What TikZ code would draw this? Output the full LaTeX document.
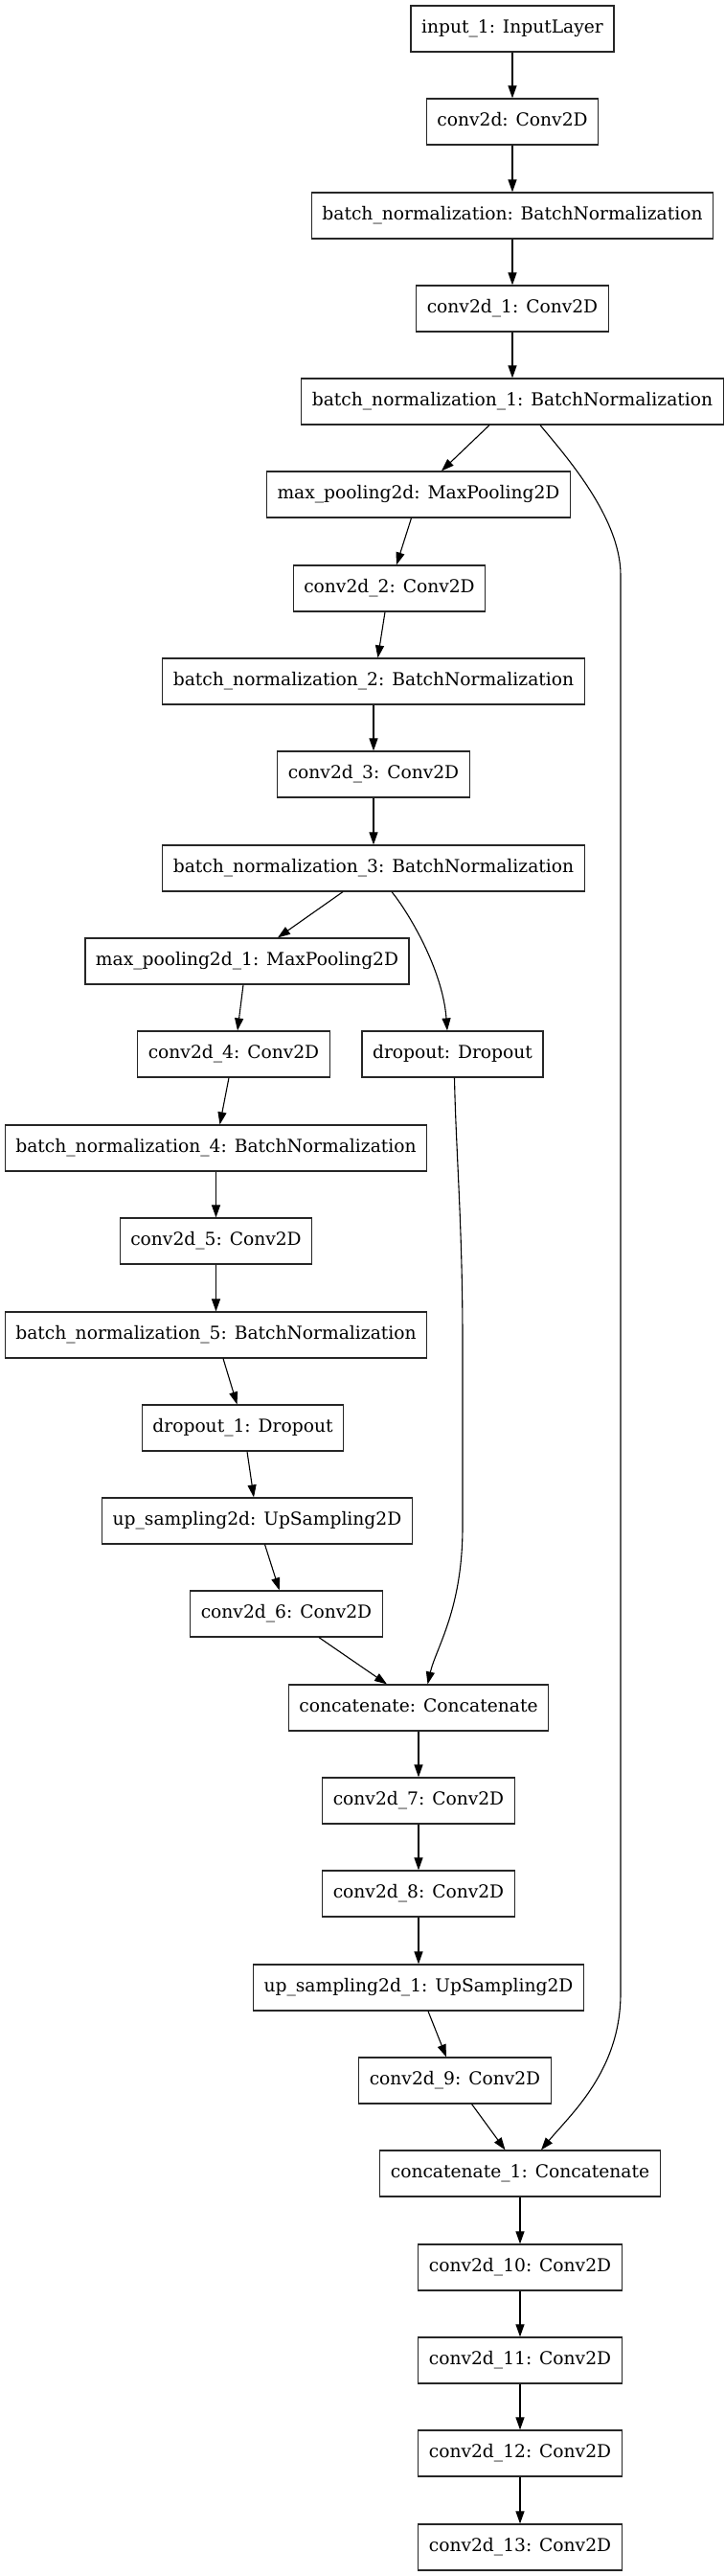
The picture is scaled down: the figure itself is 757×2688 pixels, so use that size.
\documentclass[tikz,border=0pt]{standalone}
\usepackage{fontspec}
\setmainfont{DejaVu Serif}
\usetikzlibrary{arrows.meta}
\begin{document}
\begin{tikzpicture}[x=1pt,y=-1pt,
  layer/.style={draw=black!85, rectangle, minimum height=48pt, inner xsep=11pt, inner ysep=0pt,
    line width=1.2pt, font=\fontsize{18.67pt}{22pt}\selectfont, text height=13.5pt, text depth=4pt},
  conn/.style={-{Triangle[length=13pt,width=9pt]}, line width=1.1pt}]
\useasboundingbox (0,0) rectangle (757,2688);
\node[layer] (in1) at (535,30) {input\_1: InputLayer};
\node[layer] (c0) at (535,127) {conv2d: Conv2D};
\node[layer] (bn0) at (535,225) {batch\_normalization: BatchNormalization};
\node[layer] (c1) at (535,322) {conv2d\_1: Conv2D};
\node[layer] (bn1) at (535,419) {batch\_normalization\_1: BatchNormalization};
\node[layer] (mp0) at (437,516) {max\_pooling2d: MaxPooling2D};
\node[layer] (c2) at (406.5,614) {conv2d\_2: Conv2D};
\node[layer] (bn2) at (390,711) {batch\_normalization\_2: BatchNormalization};
\node[layer] (c3) at (390,808) {conv2d\_3: Conv2D};
\node[layer] (bn3) at (390,906) {batch\_normalization\_3: BatchNormalization};
\node[layer] (mp1) at (258,1003) {max\_pooling2d\_1: MaxPooling2D};
\node[layer] (c4) at (244,1100) {conv2d\_4: Conv2D};
\node[layer] (do0) at (472.5,1100) {dropout: Dropout};
\node[layer] (bn4) at (225.5,1198) {batch\_normalization\_4: BatchNormalization};
\node[layer] (c5) at (225.5,1295) {conv2d\_5: Conv2D};
\node[layer] (bn5) at (225.5,1393) {batch\_normalization\_5: BatchNormalization};
\node[layer] (do1) at (253.5,1490) {dropout\_1: Dropout};
\node[layer] (up0) at (268.5,1587) {up\_sampling2d: UpSampling2D};
\node[layer] (c6) at (299,1684) {conv2d\_6: Conv2D};
\node[layer] (cat0) at (437,1782) {concatenate: Concatenate};
\node[layer] (c7) at (437,1879) {conv2d\_7: Conv2D};
\node[layer] (c8) at (437,1976) {conv2d\_8: Conv2D};
\node[layer] (up1) at (437,2074) {up\_sampling2d\_1: UpSampling2D};
\node[layer] (c9) at (475,2171) {conv2d\_9: Conv2D};
\node[layer] (cat1) at (543,2268) {concatenate\_1: Concatenate};
\node[layer] (c10) at (543,2366) {conv2d\_10: Conv2D};
\node[layer] (c11) at (543,2463) {conv2d\_11: Conv2D};
\node[layer] (c12) at (543,2560) {conv2d\_12: Conv2D};
\node[layer] (c13) at (543,2658) {conv2d\_13: Conv2D};
% straight connectors
\draw[conn] (in1.south) -- (c0.north);
\draw[conn] (c0.south) -- (bn0.north);
\draw[conn] (bn0.south) -- (c1.north);
\draw[conn] (c1.south) -- (bn1.north);
\draw[conn] ([xshift=-24pt]bn1.south) -- ([xshift=24pt]mp0.north);
\draw[conn] ([xshift=-7.5pt]mp0.south) -- ([xshift=7.5pt]c2.north);
\draw[conn] ([xshift=-4.5pt]c2.south) -- ([xshift=4.5pt]bn2.north);
\draw[conn] (bn2.south) -- (c3.north);
\draw[conn] (c3.south) -- (bn3.north);
\draw[conn] ([xshift=-32pt]bn3.south) -- ([xshift=32pt]mp1.north);
\draw[conn] ([xshift=-4pt]mp1.south) -- ([xshift=4pt]c4.north);
\draw[conn] ([xshift=-5pt]c4.south) -- ([xshift=4pt]bn4.north);
\draw[conn] (bn4.south) -- (c5.north);
\draw[conn] (c5.south) -- (bn5.north);
\draw[conn] ([xshift=7.5pt]bn5.south) -- ([xshift=-6pt]do1.north);
\draw[conn] ([xshift=4.5pt]do1.south) -- ([xshift=-3.5pt]up0.north);
\draw[conn] ([xshift=8pt]up0.south) -- ([xshift=-7.3pt]c6.north);
\draw[conn] ([xshift=34pt]c6.south) -- ([xshift=-33pt]cat0.north);
\draw[conn] (cat0.south) -- (c7.north);
\draw[conn] (c7.south) -- (c8.north);
\draw[conn] (c8.south) -- (up1.north);
\draw[conn] ([xshift=10pt]up1.south) -- ([xshift=-9pt]c9.north);
\draw[conn] ([xshift=17.6pt]c9.south) -- ([xshift=-15.5pt]cat1.north);
\draw[conn] (cat1.south) -- (c10.north);
\draw[conn] (c10.south) -- (c11.north);
\draw[conn] (c11.south) -- (c12.north);
\draw[conn] (c12.south) -- (c13.north);
% curved connectors
\draw[conn] ([xshift=29pt]bn1.south) .. controls (590,475) and (648,540) .. (648,600)
  -- (648,2080) .. controls (648,2160) and (597,2205) .. ([xshift=22pt]cat1.north);
\draw[conn] ([xshift=19pt]bn3.south) .. controls (425,950) and (462,1010) .. ([xshift=-5.5pt]do0.north);
\draw[conn] ([xshift=2pt]do0.south) .. controls (476,1200) and (483,1280) .. (483,1400)
  -- (483,1593) .. controls (483,1680) and (455,1720) .. ([xshift=9.5pt]cat0.north);
\end{tikzpicture}
\end{document}
